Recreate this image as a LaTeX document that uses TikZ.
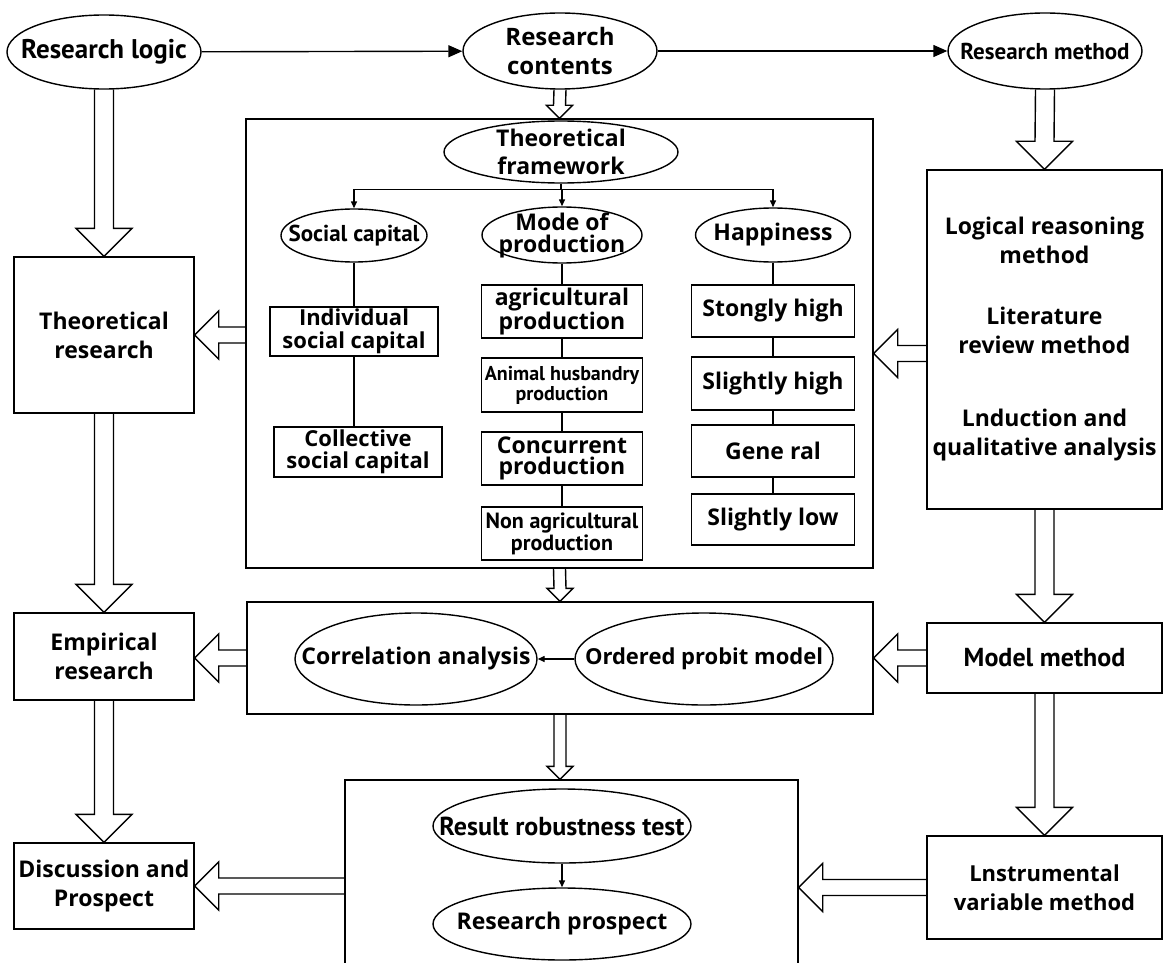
\documentclass[tikz,border=0pt]{standalone}
\usepackage{fontspec}
\newfontfamily\widefont{Open Sans}
\newfontfamily\condfont{PT Sans}
\usetikzlibrary{shapes.geometric,arrows.meta,calc}

\tikzset{
  base/.style={draw, line width=1.4pt, align=center},
  oval/.style={base, ellipse, inner xsep=-40pt, inner ysep=-15pt},
  box/.style={base, rectangle, inner sep=0pt},
  wide/.style={font=\widefont\bfseries\fontsize{#1}{29}\selectfont},
  wide/.default=23,
  tight/.style={font=\widefont\bfseries\fontsize{23}{#1}\selectfont},
  tight/.default=21,
  cond/.style={font=\condfont\bfseries\fontsize{#1}{#1}\selectfont},
  cond/.default=26,
  plain/.style={line width=1.4pt},
  link/.style={plain, -{Triangle[length=14pt,width=12pt]}},
  tiny/.style={plain, -{Triangle[length=7pt,width=6pt]}},
  blockarrow/.style={line width=1.4pt, line join=miter},
}

% hollow block arrows: shaft half width, head half width, base, tip
\newcommand{\blockdown}[4]{%
  \draw[blockarrow] ($(#3)+(-#1,0)$) -- ($(#4)+(-#1,-#2)$) -- ($(#4)+(-#2,-#2)$) -- (#4)
    -- ($(#4)+(#2,-#2)$) -- ($(#4)+(#1,-#2)$) -- ($(#3)+(#1,0)$);}
\newcommand{\blockleft}[4]{%
  \draw[blockarrow] ($(#3)+(0,-#1)$) -- ($(#4)+(#2,-#1)$) -- ($(#4)+(#2,-#2)$) -- (#4)
    -- ($(#4)+(#2,#2)$) -- ($(#4)+(#2,#1)$) -- ($(#3)+(0,#1)$);}

\begin{document}
\begin{tikzpicture}[x=1pt, y=-1pt]
  \clip (0,0) rectangle (1164,963);
  \fill[white] (0,0) rectangle (1164,963);

  % top row
  \node[oval, cond=27, minimum width=194pt, minimum height=74pt] (logic) at (104,52) {Research logic};
  \node[oval, wide=24, minimum width=194pt, minimum height=76pt] (contents) at (560,51) {Research\\contents};
  \node[oval, cond=23, minimum width=194pt, minimum height=76pt] (rmethod) at (1045,51) {Research method};
  \draw[link] (logic) -- (contents);
  \draw[link] (contents) -- (rmethod);

  % left column
  \node[box, wide, minimum width=180pt, minimum height=156pt] (theory) at (104,335) {Theoretical\\research};
  \node[box, wide, minimum width=180pt, minimum height=87pt] (empir) at (104,656.5) {Empirical\\research};
  \node[box, wide, minimum width=180pt, minimum height=86pt] (disc) at (104,886) {Discussion and\\Prospect};

  % theoretical framework
  \node[box, minimum width=627pt, minimum height=449pt] (frame) at (559.5,343.5) {};
  \node[oval, tight=28, minimum width=234pt, minimum height=62pt] (framework) at (561,152) {Theoretical\\framework};
  \node[oval, cond=23, minimum width=146pt, minimum height=53pt] (social) at (354,235.5) {Social capital};
  \node[oval, tight=22, minimum width=160pt, minimum height=56pt] (mode) at (562,235) {Mode of\\production};
  \node[oval, wide, minimum width=155pt, minimum height=54pt] (happy) at (773,235) {Happiness};
  \coordinate (fork) at ($(framework.south)+(0,6)$);
  \draw[plain] (framework.south) -- (fork);
  \draw[tiny] (fork) -| (social.north);
  \draw[tiny] (fork) -| (happy.north);
  \draw[tiny] (fork -| mode.north) -- (mode.north);

  \node[box, font=\widefont\bfseries\fontsize{22}{23}\selectfont, minimum width=168pt, minimum height=49pt] (indiv) at (354,331.5) {Individual\\social capital};
  \node[box, font=\widefont\bfseries\fontsize{22}{22}\selectfont, minimum width=168pt, minimum height=50pt] (collect) at (358,452) {Collective\\social capital};
  \draw[plain] (social) -- (indiv);
  \draw[plain] (indiv.south) -- (indiv.south |- collect.north);

  \node[box, tight, minimum width=161pt, minimum height=53pt] (agri) at (562,311.5) {agricultural\\production};
  \node[box, cond=20, minimum width=161pt, minimum height=54pt] (animal) at (562,385) {Animal husbandry\\production};
  \node[box, tight, minimum width=161pt, minimum height=53pt] (concur) at (562,458.5) {Concurrent\\production};
  \node[box, cond=22, minimum width=161pt, minimum height=53pt] (nonagri) at (562,533.5) {Non agricultural\\production};
  \foreach \a/\b in {mode/agri, agri/animal, animal/concur, concur/nonagri}
    \draw[plain] (\a) -- (\b);

  \node[box, wide, minimum width=163pt, minimum height=52pt] (strong) at (773,311) {Stongly high};
  \node[box, wide, minimum width=163pt, minimum height=53pt] (shigh) at (773,383.5) {Slightly high};
  \node[box, wide, minimum width=163pt, minimum height=52pt] (general) at (773,451) {Gene ral};
  \node[box, wide, minimum width=163pt, minimum height=51pt] (slow) at (773,519.5) {Slightly low};
  \foreach \a/\b in {happy/strong, strong/shigh, shigh/general, general/slow}
    \draw[plain] (\a) -- (\b);

  % right column
  \node[box, wide, minimum width=235pt, minimum height=339pt] (method) at (1044.5,339.5)
    {Logical reasoning\\method\\[32pt]Literature\\review method\\[44pt]Lnduction and\\qualitative analysis};
  \node[box, cond=26, minimum width=235pt, minimum height=70pt] (model) at (1044.5,658) {Model method};
  \node[box, wide=22, minimum width=235pt, minimum height=103pt] (instr) at (1044.5,887.5) {Lnstrumental\\variable method};

  % models
  \node[box, minimum width=626pt, minimum height=112pt] (corrbox) at (560,658) {};
  \node[oval, wide, minimum width=242pt, minimum height=92pt] (corr) at (416,659) {Correlation analysis};
  \node[oval, wide=22, minimum width=258pt, minimum height=92pt] (probit) at (704,659) {Ordered probit model};
  \draw[tiny] (probit) -- (corr);

  % results
  \node[box, minimum width=453pt, minimum height=195pt] (results) at (571.5,877.5) {};
  \node[oval, cond=26, minimum width=258pt, minimum height=74pt] (robust) at (562,826) {Result robustness test};
  \node[oval, wide, minimum width=258pt, minimum height=72pt] (prospect) at (562,924) {Research prospect};
  \draw[tiny] (robust) -- (prospect);

  % hollow arrows
  \blockdown{9.5}{28}{logic.south}{theory.north}
  \blockdown{9.5}{28}{theory.south}{empir.north}
  \blockdown{9.5}{28}{empir.south}{disc.north}
  \blockdown{9.5}{28}{rmethod.south}{method.north}
  \blockdown{9.5}{28}{method.south}{model.north}
  \blockdown{9.5}{28}{model.south}{instr.north}
  \blockdown{6}{13}{contents.south}{frame.north}
  \blockdown{6}{13}{frame.south}{corrbox.north}
  \blockdown{6}{13}{corrbox.south}{corrbox.south |- results.north}
  \coordinate (mbase) at ($(method.west)+(0,14)$);
  \coordinate (mtip) at ($(frame.east)+(0,10)$);
  \blockleft{8}{24}{frame.west |- theory.east}{theory.east}
  \blockleft{8}{24}{mbase}{mtip}
  \blockleft{8}{24}{corrbox.west}{empir.east |- corrbox.west}
  \blockleft{8}{24}{model.west}{corrbox.east |- model.west}
  \blockleft{8}{24}{results.west |- disc.east}{disc.east}
  \blockleft{8}{24}{instr.west}{results.east |- instr.west}
\end{tikzpicture}
\end{document}
